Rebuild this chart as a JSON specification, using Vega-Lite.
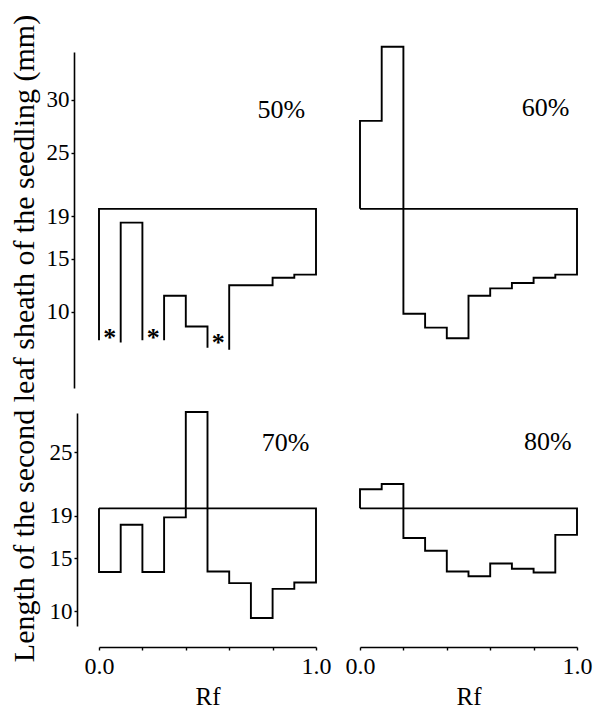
{
  "$schema": "https://vega.github.io/schema/vega-lite/v6.json",
  "autosize": {"type": "pad"},
  "padding": {"left": 9, "top": 14, "right": 5, "bottom": 5},
  "background": "white",
  "config": {
    "view": {"stroke": null},
    "font": "Liberation Serif",
    "axis": {"domainColor": "black", "tickColor": "black", "labelColor": "black", "titleColor": "black", "grid": false, "labelFont": "Liberation Serif", "titleFont": "Liberation Serif", "domainWidth": 1.6, "tickWidth": 1.4, "titleFontWeight": "normal"},
    "text": {"font": "Liberation Serif", "color": "black"}
  },
  "datasets": {
    "outline": [
      {"p": "50%", "s": "a", "i": 1, "rf": 0.0, "len": 7.3},
      {"p": "50%", "s": "a", "i": 2, "rf": 0.0, "len": 19.7},
      {"p": "50%", "s": "a", "i": 3, "rf": 1.0, "len": 19.7},
      {"p": "50%", "s": "a", "i": 4, "rf": 1.0, "len": 13.5},
      {"p": "50%", "s": "a", "i": 5, "rf": 0.9, "len": 13.5},
      {"p": "50%", "s": "a", "i": 6, "rf": 0.9, "len": 13.2},
      {"p": "50%", "s": "a", "i": 7, "rf": 0.8, "len": 13.2},
      {"p": "50%", "s": "a", "i": 8, "rf": 0.8, "len": 12.5},
      {"p": "50%", "s": "a", "i": 9, "rf": 0.6, "len": 12.5},
      {"p": "50%", "s": "a", "i": 10, "rf": 0.6, "len": 6.4},
      {"p": "50%", "s": "b", "i": 1, "rf": 0.5, "len": 6.6},
      {"p": "50%", "s": "b", "i": 2, "rf": 0.5, "len": 8.6},
      {"p": "50%", "s": "b", "i": 3, "rf": 0.4, "len": 8.6},
      {"p": "50%", "s": "b", "i": 4, "rf": 0.4, "len": 11.5},
      {"p": "50%", "s": "b", "i": 5, "rf": 0.3, "len": 11.5},
      {"p": "50%", "s": "b", "i": 6, "rf": 0.3, "len": 7.3},
      {"p": "50%", "s": "c", "i": 1, "rf": 0.2, "len": 7.3},
      {"p": "50%", "s": "c", "i": 2, "rf": 0.2, "len": 18.4},
      {"p": "50%", "s": "c", "i": 3, "rf": 0.1, "len": 18.4},
      {"p": "50%", "s": "c", "i": 4, "rf": 0.1, "len": 7.1},

      {"p": "60%", "s": "a", "i": 1, "rf": 0.0, "len": 19.7},
      {"p": "60%", "s": "a", "i": 2, "rf": 0.0, "len": 28.0},
      {"p": "60%", "s": "a", "i": 3, "rf": 0.1, "len": 28.0},
      {"p": "60%", "s": "a", "i": 4, "rf": 0.1, "len": 35.0},
      {"p": "60%", "s": "a", "i": 5, "rf": 0.2, "len": 35.0},
      {"p": "60%", "s": "a", "i": 6, "rf": 0.2, "len": 9.8},
      {"p": "60%", "s": "a", "i": 7, "rf": 0.3, "len": 9.8},
      {"p": "60%", "s": "a", "i": 8, "rf": 0.3, "len": 8.5},
      {"p": "60%", "s": "a", "i": 9, "rf": 0.4, "len": 8.5},
      {"p": "60%", "s": "a", "i": 10, "rf": 0.4, "len": 7.5},
      {"p": "60%", "s": "a", "i": 11, "rf": 0.5, "len": 7.5},
      {"p": "60%", "s": "a", "i": 12, "rf": 0.5, "len": 11.5},
      {"p": "60%", "s": "a", "i": 13, "rf": 0.6, "len": 11.5},
      {"p": "60%", "s": "a", "i": 14, "rf": 0.6, "len": 12.2},
      {"p": "60%", "s": "a", "i": 15, "rf": 0.7, "len": 12.2},
      {"p": "60%", "s": "a", "i": 16, "rf": 0.7, "len": 12.7},
      {"p": "60%", "s": "a", "i": 17, "rf": 0.8, "len": 12.7},
      {"p": "60%", "s": "a", "i": 18, "rf": 0.8, "len": 13.2},
      {"p": "60%", "s": "a", "i": 19, "rf": 0.9, "len": 13.2},
      {"p": "60%", "s": "a", "i": 20, "rf": 0.9, "len": 13.5},
      {"p": "60%", "s": "a", "i": 21, "rf": 1.0, "len": 13.5},
      {"p": "60%", "s": "a", "i": 22, "rf": 1.0, "len": 19.7},
      {"p": "60%", "s": "a", "i": 23, "rf": 0.0, "len": 19.7},

      {"p": "70%", "s": "a", "i": 1, "rf": 0.0, "len": 19.7},
      {"p": "70%", "s": "a", "i": 2, "rf": 0.0, "len": 13.7},
      {"p": "70%", "s": "a", "i": 3, "rf": 0.1, "len": 13.7},
      {"p": "70%", "s": "a", "i": 4, "rf": 0.1, "len": 18.15},
      {"p": "70%", "s": "a", "i": 5, "rf": 0.2, "len": 18.15},
      {"p": "70%", "s": "a", "i": 6, "rf": 0.2, "len": 13.7},
      {"p": "70%", "s": "a", "i": 7, "rf": 0.3, "len": 13.7},
      {"p": "70%", "s": "a", "i": 8, "rf": 0.3, "len": 18.85},
      {"p": "70%", "s": "a", "i": 9, "rf": 0.4, "len": 18.85},
      {"p": "70%", "s": "a", "i": 10, "rf": 0.4, "len": 28.8},
      {"p": "70%", "s": "a", "i": 11, "rf": 0.5, "len": 28.8},
      {"p": "70%", "s": "a", "i": 12, "rf": 0.5, "len": 13.75},
      {"p": "70%", "s": "a", "i": 13, "rf": 0.6, "len": 13.75},
      {"p": "70%", "s": "a", "i": 14, "rf": 0.6, "len": 12.65},
      {"p": "70%", "s": "a", "i": 15, "rf": 0.7, "len": 12.65},
      {"p": "70%", "s": "a", "i": 16, "rf": 0.7, "len": 9.35},
      {"p": "70%", "s": "a", "i": 17, "rf": 0.8, "len": 9.35},
      {"p": "70%", "s": "a", "i": 18, "rf": 0.8, "len": 12.1},
      {"p": "70%", "s": "a", "i": 19, "rf": 0.9, "len": 12.1},
      {"p": "70%", "s": "a", "i": 20, "rf": 0.9, "len": 12.7},
      {"p": "70%", "s": "a", "i": 21, "rf": 1.0, "len": 12.7},
      {"p": "70%", "s": "a", "i": 22, "rf": 1.0, "len": 19.7},
      {"p": "70%", "s": "a", "i": 23, "rf": 0.0, "len": 19.7},

      {"p": "80%", "s": "a", "i": 1, "rf": 0.0, "len": 19.7},
      {"p": "80%", "s": "a", "i": 2, "rf": 0.0, "len": 21.5},
      {"p": "80%", "s": "a", "i": 3, "rf": 0.1, "len": 21.5},
      {"p": "80%", "s": "a", "i": 4, "rf": 0.1, "len": 22.0},
      {"p": "80%", "s": "a", "i": 5, "rf": 0.2, "len": 22.0},
      {"p": "80%", "s": "a", "i": 6, "rf": 0.2, "len": 16.9},
      {"p": "80%", "s": "a", "i": 7, "rf": 0.3, "len": 16.9},
      {"p": "80%", "s": "a", "i": 8, "rf": 0.3, "len": 15.7},
      {"p": "80%", "s": "a", "i": 9, "rf": 0.4, "len": 15.7},
      {"p": "80%", "s": "a", "i": 10, "rf": 0.4, "len": 13.75},
      {"p": "80%", "s": "a", "i": 11, "rf": 0.5, "len": 13.75},
      {"p": "80%", "s": "a", "i": 12, "rf": 0.5, "len": 13.3},
      {"p": "80%", "s": "a", "i": 13, "rf": 0.6, "len": 13.3},
      {"p": "80%", "s": "a", "i": 14, "rf": 0.6, "len": 14.5},
      {"p": "80%", "s": "a", "i": 15, "rf": 0.7, "len": 14.5},
      {"p": "80%", "s": "a", "i": 16, "rf": 0.7, "len": 14.0},
      {"p": "80%", "s": "a", "i": 17, "rf": 0.8, "len": 14.0},
      {"p": "80%", "s": "a", "i": 18, "rf": 0.8, "len": 13.65},
      {"p": "80%", "s": "a", "i": 19, "rf": 0.9, "len": 13.65},
      {"p": "80%", "s": "a", "i": 20, "rf": 0.9, "len": 17.2},
      {"p": "80%", "s": "a", "i": 21, "rf": 1.0, "len": 17.2},
      {"p": "80%", "s": "a", "i": 22, "rf": 1.0, "len": 19.7},
      {"p": "80%", "s": "a", "i": 23, "rf": 0.0, "len": 19.7}
    ],
    "stars": [
      {"p": "50%", "rf": 0.05, "len": 6.8, "t": "*"},
      {"p": "50%", "rf": 0.25, "len": 6.8, "t": "*"},
      {"p": "50%", "rf": 0.55, "len": 6.3, "t": "*"}
    ]
  },
  "columns": 2,
  "align": "each",
  "bounds": "flush",
  "spacing": {"row": 25, "column": 44},
  "concat": [
    {
      "width": 217,
      "height": 336,
      "layer": [
        {
          "data": {"name": "outline"},
          "transform": [{"filter": "datum.p == '50%'"}],
          "mark": {"type": "line", "stroke": "black", "strokeWidth": 1.9},
          "encoding": {
            "x": {"field": "rf", "type": "quantitative", "scale": {"domain": [0, 1], "nice": false}, "axis": null},
            "y": {"field": "len", "type": "quantitative", "scale": {"domain": [2.8, 34.5], "nice": false, "zero": false},
              "axis": {"values": [10, 15, 19, 25, 30], "offset": 25, "tickSize": 3, "labelPadding": 2, "labelFontSize": 23, "labelFlush": false, "labelOverlap": false,
                "title": "Length of the second leaf sheath of the seedling (mm)", "titleFontSize": 30, "titleBaseline": "middle", "titleX": -50, "titleY": 286}},
            "detail": {"field": "s", "type": "nominal"},
            "order": {"field": "i", "type": "quantitative"}
          }
        },
        {
          "data": {"name": "stars"},
          "mark": {"type": "text", "fontSize": 26, "fontWeight": "bold", "baseline": "alphabetic", "align": "center"},
          "encoding": {
            "x": {"field": "rf", "type": "quantitative"},
            "y": {"field": "len", "type": "quantitative"},
            "text": {"field": "t"}
          }
        },
        {
          "data": {"values": [{}]},
          "mark": {"type": "text", "text": "50%", "fontSize": 26, "baseline": "middle", "align": "center"},
          "encoding": {"x": {"datum": 0.84}, "y": {"datum": 29.0}}
        }
      ]
    },
    {
      "width": 217,
      "height": 336,
      "layer": [
        {
          "data": {"name": "outline"},
          "transform": [{"filter": "datum.p == '60%'"}],
          "mark": {"type": "line", "stroke": "black", "strokeWidth": 1.9},
          "encoding": {
            "x": {"field": "rf", "type": "quantitative", "scale": {"domain": [0, 1], "nice": false}, "axis": null},
            "y": {"field": "len", "type": "quantitative", "scale": {"domain": [2.8, 34.5], "nice": false, "zero": false}, "axis": null},
            "detail": {"field": "s", "type": "nominal"},
            "order": {"field": "i", "type": "quantitative"}
          }
        },
        {
          "data": {"values": [{}]},
          "mark": {"type": "text", "text": "60%", "fontSize": 26, "baseline": "middle", "align": "center"},
          "encoding": {"x": {"datum": 0.855}, "y": {"datum": 29.2}}
        }
      ]
    },
    {
      "width": 217,
      "height": 213,
      "layer": [
        {
          "data": {"name": "outline"},
          "transform": [{"filter": "datum.p == '70%'"}],
          "mark": {"type": "line", "stroke": "black", "strokeWidth": 1.9},
          "encoding": {
            "x": {"field": "rf", "type": "quantitative", "scale": {"domain": [0, 1], "nice": false},
              "axis": {"values": [0, 0.1, 0.2, 0.3, 0.4, 0.5, 0.6, 0.7, 0.8, 0.9, 1], "labelExpr": "datum.value == 0 || datum.value == 0.5 || datum.value == 1 ? format(datum.value, '.1f') : ''",
                "offset": 21, "tickSize": 3, "labelPadding": 4, "labelFontSize": 24, "labelFlush": false, "labelOverlap": false, "title": "Rf", "titleFontSize": 25, "titlePadding": 6}},
            "y": {"field": "len", "type": "quantitative", "scale": {"domain": [8.6, 28.7], "nice": false, "zero": false},
              "axis": {"values": [10, 15, 19, 25], "offset": 22, "tickSize": 3, "labelPadding": 2, "labelFontSize": 23, "labelFlush": false, "labelOverlap": false, "title": null}},
            "detail": {"field": "s", "type": "nominal"},
            "order": {"field": "i", "type": "quantitative"}
          }
        },
        {
          "data": {"values": [{}]},
          "mark": {"type": "text", "text": "70%", "fontSize": 26, "baseline": "middle", "align": "center"},
          "encoding": {"x": {"datum": 0.86}, "y": {"datum": 25.9}}
        }
      ]
    },
    {
      "width": 217,
      "height": 213,
      "layer": [
        {
          "data": {"name": "outline"},
          "transform": [{"filter": "datum.p == '80%'"}],
          "mark": {"type": "line", "stroke": "black", "strokeWidth": 1.9},
          "encoding": {
            "x": {"field": "rf", "type": "quantitative", "scale": {"domain": [0, 1], "nice": false},
              "axis": {"values": [0, 0.1, 0.2, 0.3, 0.4, 0.5, 0.6, 0.7, 0.8, 0.9, 1], "labelExpr": "datum.value == 0 || datum.value == 0.5 || datum.value == 1 ? format(datum.value, '.1f') : ''",
                "offset": 21, "tickSize": 3, "labelPadding": 4, "labelFontSize": 24, "labelFlush": false, "labelOverlap": false, "title": "Rf", "titleFontSize": 25, "titlePadding": 6}},
            "y": {"field": "len", "type": "quantitative", "scale": {"domain": [8.6, 28.7], "nice": false, "zero": false}, "axis": null},
            "detail": {"field": "s", "type": "nominal"},
            "order": {"field": "i", "type": "quantitative"}
          }
        },
        {
          "data": {"values": [{}]},
          "mark": {"type": "text", "text": "80%", "fontSize": 26, "baseline": "middle", "align": "center"},
          "encoding": {"x": {"datum": 0.866}, "y": {"datum": 26.0}}
        }
      ]
    }
  ]
}
